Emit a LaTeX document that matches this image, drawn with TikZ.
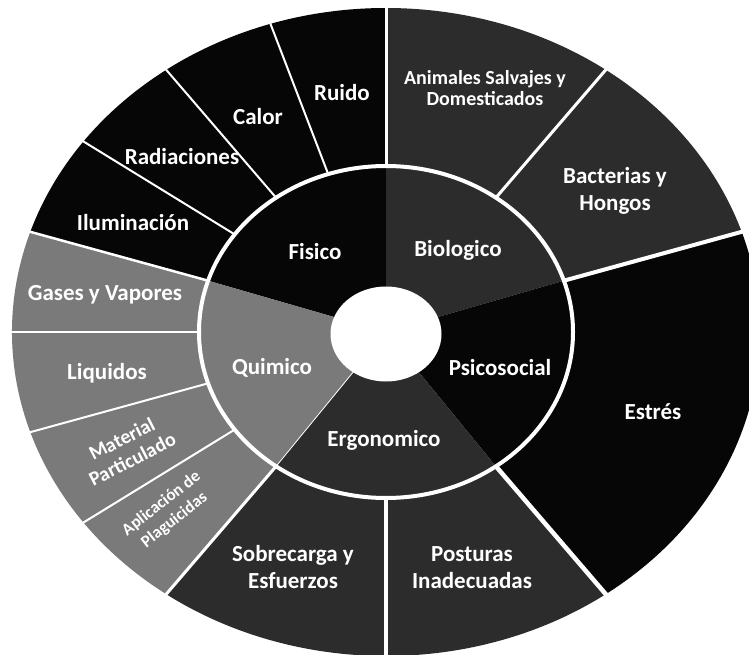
\documentclass[tikz,border=0pt]{standalone}
\usepackage{fontspec}
\usepackage{pdfrender}
\setmainfont{Carlito}
\definecolor{bk}{HTML}{060606}
\definecolor{dg}{HTML}{2C2C2C}
\definecolor{mg}{HTML}{7A7A7A}
\newcommand\osec[3]{\fill[#1] (#2:374 and 324) arc[start angle=#2,end angle=#3,x radius=374,y radius=324] -- (#3:187 and 166) arc[start angle=#3,end angle=#2,x radius=187,y radius=166] -- cycle;}
\newcommand\isec[3]{\fill[#1] (0,0) -- (#2:187 and 166) arc[start angle=#2,end angle=#3,x radius=187,y radius=166] -- cycle;}
\newcommand\oline[2]{\draw[white,line width=#2] (#1:187 and 166) -- (#1:375 and 325);}
\newcommand\outl[1]{\textpdfrender{TextRenderingMode=FillStroke,LineWidth=0.9pt,StrokeColor=black,FillColor=white}{#1}}
\begin{document}
\begin{tikzpicture}[x=1pt,y=1pt,
  lab/.style={text=white,font=\bfseries\fontsize{23}{27}\selectfont,align=center,inner sep=0pt},
  smalllab/.style={font=\bfseries\fontsize{20}{21}\selectfont}]
\useasboundingbox (0,0) rectangle (749,654);
\fill[white] (0,0) rectangle (749,654);
\begin{scope}[shift={(386,322)}]
  % outer ring
  \osec{bk}{90}{162}
  \osec{dg}{18}{90}
  \osec{bk}{-54}{18}
  \osec{dg}{-126}{-54}
  \osec{mg}{162}{234}
  % inner ring
  \isec{bk}{90}{162}
  \isec{dg}{18}{90}
  \isec{bk}{-54}{18}
  \isec{dg}{-126}{-54}
  \isec{mg}{162}{234}
  % outer dividers
  \oline{90}{3pt}
  \oline{108}{2pt}
  \oline{126}{2pt}
  \oline{144}{2pt}
  \oline{162}{2.5pt}
  \oline{180}{2pt}
  \oline{198}{2pt}
  \oline{216}{2pt}
  \oline{234}{3pt}
  \oline{270}{4pt}
  \oline{306}{4.5pt}
  \oline{18}{4pt}
  \oline{54}{3pt}
  % inner divider
  \draw[white,line width=0.8pt] (0,0) -- (234:187 and 166);
  % ring boundary and hole
  \draw[white,line width=4pt] (0,0) ellipse[x radius=187,y radius=166];
  \fill[white] (0,-2) ellipse[x radius=55.5,y radius=47.5];
\end{scope}
% labels
\node[lab] (ruido) at (342,561) {Ruido};
\node[lab] (calor) at (258,537) {Calor};
\node[lab] (rad) at (182,497) {Radiaciones};
\node[lab] (ilu) at (133,431) {Iluminación};
\node[lab] (fis) at (315,402) {Fisico};
\node[lab,smalllab] (ani) at (485,566) {Animales Salvajes y\\Domesticados};
\node[lab] (bac) at (615,463) {Bacterias y\\Hongos};
\node[lab] (bio) at (458,404) {Biologico};
\node[lab] (psi) at (500,286) {Psicosocial};
\node[lab] (est) at (653,242) {Estrés};
\node[lab] (erg) at (384,214) {Ergonomico};
\node[lab] (pos) at (472,86) {Posturas\\Inadecuadas};
\node[lab] (sob) at (293,87) {Sobrecarga y\\Esfuerzos};
\node[lab] (gas) at (105,359) {\outl{Gases y Vapores}};
\node[lab] (liq) at (107,281) {\outl{Liquidos}};
\node[lab] (qui) at (272,286) {\outl{Quimico}};
\node[lab,rotate=27,font=\bfseries\fontsize{20}{23}\selectfont] (mat) at (127,205) {\outl{Material}\\\outl{Particulado}};
\node[lab,rotate=38,font=\bfseries\fontsize{17}{21}\selectfont] (apl) at (168,142) {\outl{Aplicación de}\\\outl{Plaguicidas}};
\end{tikzpicture}
\end{document}
